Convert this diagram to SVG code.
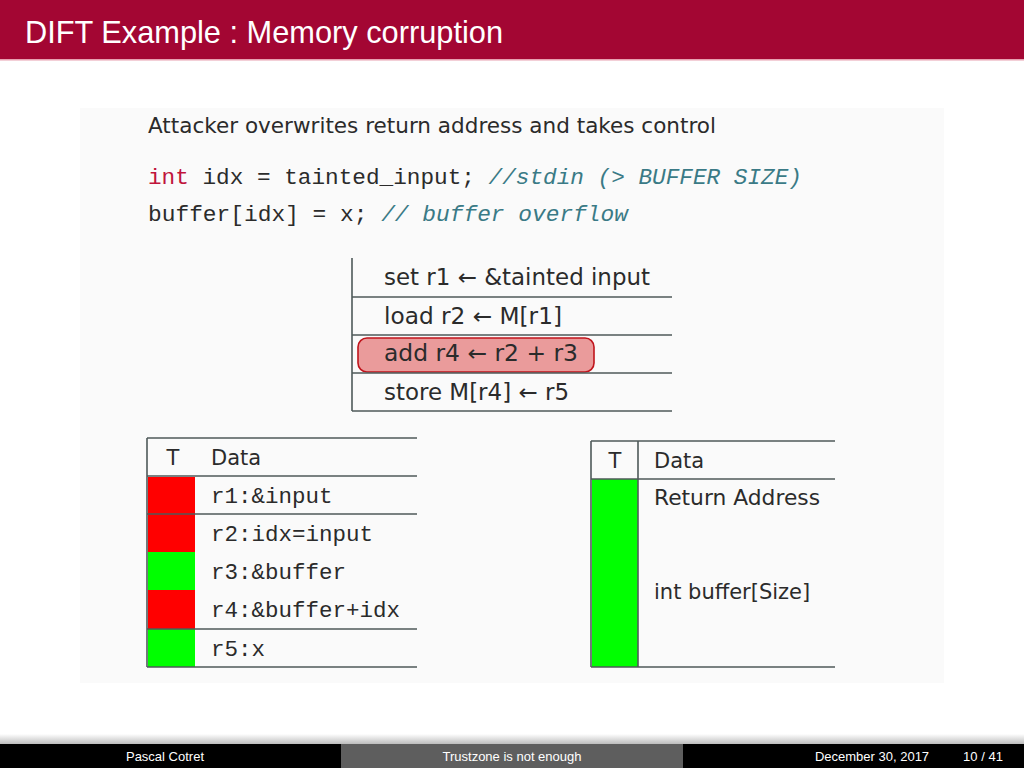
<svg xmlns="http://www.w3.org/2000/svg" width="1024" height="768" viewBox="0 0 1024 768">
<defs>
<style>
.sans{font-family:"DejaVu Sans","Liberation Sans",sans-serif;fill:#2b2b2b;font-size:21px}
.big{font-size:22.5px}
.mono{font-family:"Liberation Mono","DejaVu Sans Mono",monospace;fill:#2b2b2b;font-size:22.5px}
.cm{fill:#3a7a86;font-style:italic}
.kw{fill:#c0143c}
.ln{stroke:#4f5a5a;stroke-width:1.6;fill:none}
.foot{font-family:"Liberation Sans Narrow","Liberation Sans",sans-serif;fill:#ffffff;font-size:13px}
</style>
<linearGradient id="sh" x1="0" y1="0" x2="0" y2="1">
<stop offset="0" stop-color="#ffffff"/>
<stop offset="1" stop-color="#bdbdbd"/>
</linearGradient>
</defs>
<rect width="1024" height="768" fill="#ffffff"/>
<g id="header">
<rect x="0" y="0" width="1024" height="59" fill="#a30633"/>
<rect x="0" y="59" width="1024" height="1.5" fill="#e7a0b0"/>
<text x="25" y="43" font-family="Liberation Sans, Arial, sans-serif" font-size="30.5" fill="#ffffff" textLength="478" lengthAdjust="spacingAndGlyphs">DIFT Example : Memory corruption</text>
</g>
<g id="panel">
<rect x="80" y="108" width="864" height="575" fill="#fafafa"/>
<text class="sans" x="148" y="133" textLength="568" lengthAdjust="spacingAndGlyphs">Attacker overwrites return address and takes control</text>
<text class="mono" x="148" y="184" textLength="654" lengthAdjust="spacingAndGlyphs"><tspan class="kw">int</tspan> idx = tainted_input; <tspan class="cm">//stdin (&gt; BUFFER SIZE)</tspan></text>
<text class="mono" x="148" y="221" textLength="480" lengthAdjust="spacingAndGlyphs">buffer[idx] = x; <tspan class="cm">// buffer overflow</tspan></text>
</g>
<g id="instructions">
<rect x="358" y="338" width="236" height="34" rx="9" fill="#ea9b9b" stroke="#c0141c" stroke-width="1.6"/>
<path class="ln" d="M352 258V411M352 297H672M352 335H672M352 373H672M352 411H672"/>
<text class="sans big" x="384" y="285" textLength="266" lengthAdjust="spacingAndGlyphs">set r1 ← &amp;tainted input</text>
<text class="sans big" x="384" y="324" textLength="178" lengthAdjust="spacingAndGlyphs">load r2 ← M[r1]</text>
<text class="sans big" x="384" y="361" textLength="194" lengthAdjust="spacingAndGlyphs">add r4 ← r2 + r3</text>
<text class="sans big" x="384" y="400" textLength="185" lengthAdjust="spacingAndGlyphs">store M[r4] ← r5</text>
</g>
<g id="registers">
<rect x="148" y="477" width="47" height="37" fill="#ff0000"/>
<rect x="148" y="514" width="47" height="38" fill="#ff0000"/>
<rect x="148" y="552" width="47" height="38" fill="#00ff00"/>
<rect x="148" y="590" width="47" height="39" fill="#ff0000"/>
<rect x="148" y="629" width="47" height="38" fill="#00ff00"/>
<path class="ln" d="M147 438V667M147 438H417M147 476H417M147 514H417M147 629H417M147 667H417"/>
<text class="sans" x="173" y="465" text-anchor="middle">T</text>
<text class="sans" x="211" y="465">Data</text>
<text class="mono" x="211" y="503">r1:&amp;input</text>
<text class="mono" x="211" y="541">r2:idx=input</text>
<text class="mono" x="211" y="579">r3:&amp;buffer</text>
<text class="mono" x="211" y="617">r4:&amp;buffer+idx</text>
<text class="mono" x="211" y="656">r5:x</text>
</g>
<g id="memory">
<rect x="592" y="479" width="46" height="188" fill="#00ff00"/>
<path class="ln" d="M591 441V667M638 441V667M591 441H835M591 479H835M591 667H835"/>
<text class="sans" x="615" y="468" text-anchor="middle">T</text>
<text class="sans" x="654" y="468">Data</text>
<text class="sans" x="654" y="505" textLength="166" lengthAdjust="spacingAndGlyphs">Return Address</text>
<text class="sans" x="654" y="599">int buffer[Size]</text>
</g>
<g id="footer">
<rect x="0" y="734" width="1024" height="10" fill="url(#sh)"/>
<rect x="0" y="744" width="341" height="24" fill="#000000"/>
<rect x="341" y="744" width="342" height="24" fill="#5e5e5e"/>
<rect x="683" y="744" width="341" height="24" fill="#000000"/>
<text class="foot" x="165" y="761" text-anchor="middle">Pascal Cotret</text>
<text class="foot" x="512" y="761" text-anchor="middle">Trustzone is not enough</text>
<text class="foot" x="872" y="761" text-anchor="middle">December 30, 2017</text>
<text class="foot" x="983" y="761" text-anchor="middle">10 / 41</text>
</g>
</svg>
